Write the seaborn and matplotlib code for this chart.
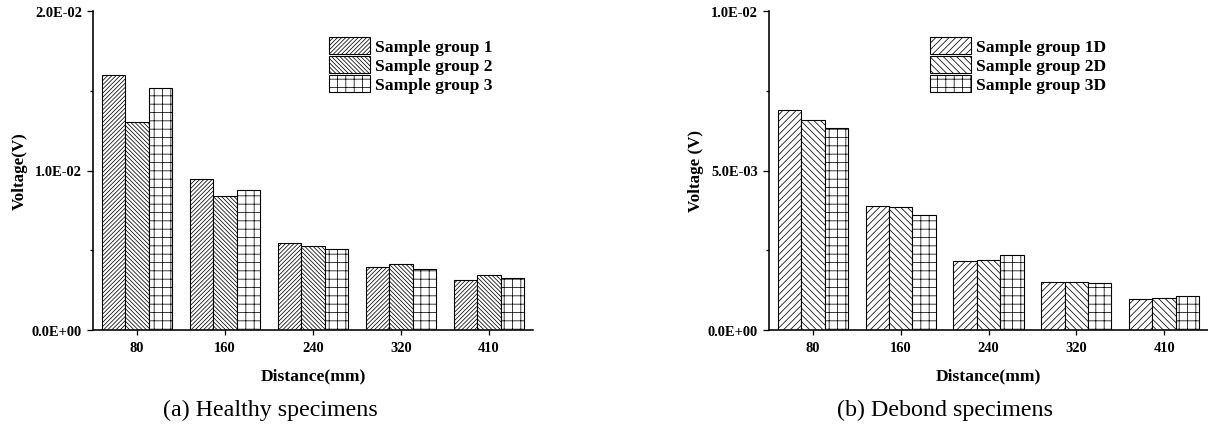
import numpy as np
import pandas as pd
import matplotlib
matplotlib.use("Agg")
import matplotlib.pyplot as plt
import seaborn as sns
from matplotlib.ticker import FixedLocator, FuncFormatter
from matplotlib.font_manager import FontProperties

# ---------------- data ----------------
distances = ["80", "160", "240", "320", "410"]

healthy_groups = ["Sample group 1", "Sample group 2", "Sample group 3"]
healthy_g1 = [0.01598, 0.00946, 0.00547, 0.00397, 0.00315]
healthy_g2 = [0.01304, 0.00841, 0.00528, 0.00413, 0.00347]
healthy_g3 = [0.01517, 0.00877, 0.00505, 0.00384, 0.00328]

debond_groups = ["Sample group 1D", "Sample group 2D", "Sample group 3D"]
debond_g1 = [0.00691, 0.00388, 0.00216, 0.00152, 0.00096]
debond_g2 = [0.00657, 0.00385, 0.00219, 0.00150, 0.00101]
debond_g3 = [0.00632, 0.00359, 0.00235, 0.00147, 0.00108]

healthy_yticks = [0.0, 0.01, 0.02]
healthy_yminor = [0.005, 0.015]
debond_yticks = [0.0, 0.005, 0.01]
debond_yminor = [0.0025, 0.0075]

# ---------------- style ----------------
DPI = 200
W, H = 1208, 427


def pt(px):
    return px * 72.0 / DPI


plt.rcParams["font.family"] = ["Liberation Serif", "DejaVu Serif"]
plt.rcParams["font.weight"] = "bold"
plt.rcParams["hatch.linewidth"] = pt(0.75)
plt.rcParams["hatch.color"] = "black"
plt.rcParams["axes.edgecolor"] = "black"
plt.rcParams["text.color"] = "black"
plt.rcParams["axes.labelcolor"] = "black"
plt.rcParams["xtick.color"] = "black"
plt.rcParams["ytick.color"] = "black"
plt.rcParams["axes.facecolor"] = "white"
plt.rcParams["figure.facecolor"] = "white"

fig = plt.figure(figsize=(W / DPI, H / DPI), dpi=DPI)


def add_axes_px(x0, x1, ytop, ybot):
    return fig.add_axes([x0 / W, (H - ybot) / H, (x1 - x0) / W, (ybot - ytop) / H])


def draw_panel(ax, groups, series, hatches, ymax, yticks, yminor, ylabel,
               ylab_x, leg_xy, caption, cap_x):
    df = pd.DataFrame({
        "Distance": np.tile(distances, len(groups)),
        "Group": np.repeat(groups, len(distances)),
        "Voltage": np.concatenate([np.asarray(s) for s in series]),
    })
    sns.barplot(data=df, x="Distance", y="Voltage", hue="Group",
                order=distances, hue_order=groups,
                palette={g: "white" for g in groups}, saturation=1,
                edgecolor="black", linewidth=pt(1.1), width=0.8,
                errorbar=None, legend=False, ax=ax)
    for cont, hatch in zip(ax.containers, hatches):
        for p in cont.patches:
            p.set_hatch(hatch)

    ax.set_xlim(-0.5, len(distances) - 0.5)
    ax.set_ylim(0, ymax)
    ax.yaxis.set_major_locator(FixedLocator(yticks))
    ax.yaxis.set_minor_locator(FixedLocator(yminor))
    ax.yaxis.set_major_formatter(FuncFormatter(lambda v, p: f"{v:.1E}"))

    for side in ("top", "right"):
        ax.spines[side].set_visible(False)
    for side in ("left", "bottom"):
        ax.spines[side].set_linewidth(pt(1.6))
        ax.spines[side].set_color("black")

    ax.tick_params(axis="y", which="major", direction="out", length=pt(6.5),
                   width=pt(1.3), pad=pt(4.5), labelsize=pt(14.5))
    ax.tick_params(axis="y", which="minor", direction="out", length=pt(3.5),
                   width=pt(1.3))
    ax.tick_params(axis="x", which="major", direction="out", length=pt(5),
                   width=pt(1.3), pad=pt(6), labelsize=pt(14.5))
    ax.tick_params(axis="x", which="minor", bottom=False)

    ax.set_xlabel("Distance(mm)", fontsize=pt(17.5), fontweight="bold",
                  va="baseline")
    ax.xaxis.set_label_coords(0.5, (331 - 380) / 319)
    ax.set_ylabel(ylabel, fontsize=pt(17), fontweight="bold", va="baseline")
    ax.yaxis.set_label_coords(ylab_x, 0.5)

    handles = [cont.patches[0] for cont in ax.containers]
    ax.legend(handles, groups, loc="upper left",
              bbox_to_anchor=(leg_xy[0] / W, 1 - leg_xy[1] / H),
              bbox_transform=fig.transFigure, frameon=False,
              borderpad=0, borderaxespad=0, handlelength=2.35,
              handleheight=1.1, handletextpad=0.3, labelspacing=0.03,
              prop=FontProperties(family="Liberation Serif", weight="bold",
                                  size=pt(17.5)))

    fig.text(cap_x / W, 1 - 416 / H, caption, ha="center", va="baseline",
             fontsize=pt(24), fontweight="normal", family="Liberation Serif")


ax1 = add_axes_px(93, 533, 12, 331)
draw_panel(ax1, healthy_groups, [healthy_g1, healthy_g2, healthy_g3],
           ["/" * 16, "\\" * 16, "++++"], 0.02,
           healthy_yticks, healthy_yminor, "Voltage(V)",
           (24 - 93) / 440, (329, 38), "(a) Healthy specimens", 270)

ax2 = add_axes_px(769, 1208, 12, 331)
draw_panel(ax2, debond_groups, [debond_g1, debond_g2, debond_g3],
           ["/" * 10, "\\" * 10, "++++"], 0.01,
           debond_yticks, debond_yminor, "Voltage (V)",
           (700 - 769) / 439, (930, 38), "(b) Debond specimens", 945)

fig.savefig("out.png", dpi=DPI)
